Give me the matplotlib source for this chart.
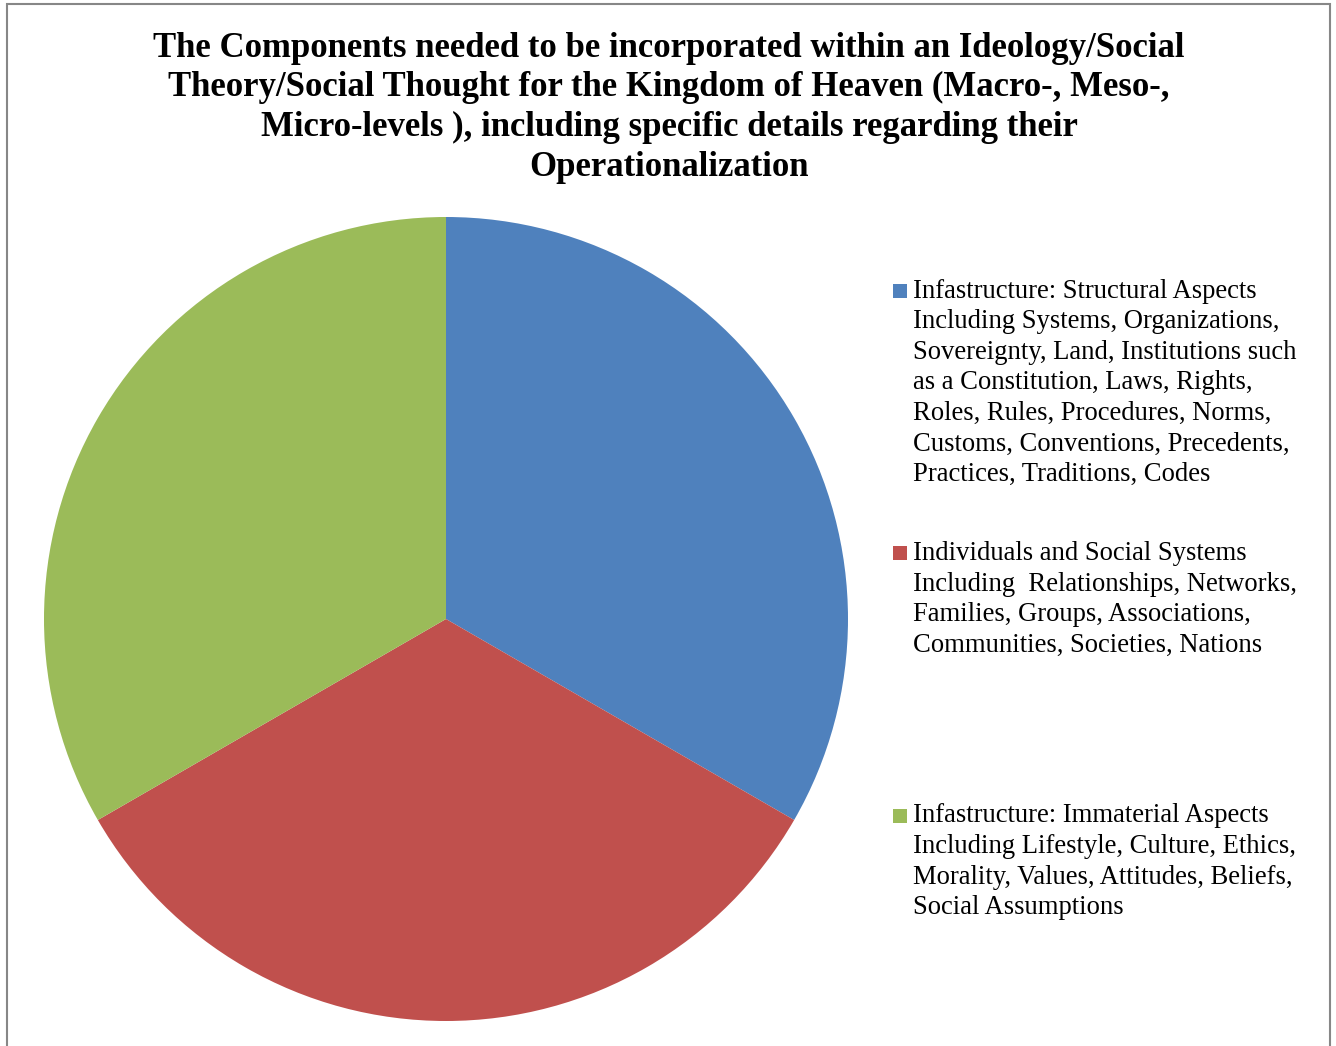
import matplotlib
matplotlib.use('Agg')
import matplotlib.pyplot as plt
from matplotlib.patches import Rectangle

# 데이터
title_lines = ['The Components needed to be incorporated within an Ideology/Social',
               'Theory/Social Thought for the Kingdom of Heaven (Macro-, Meso-,',
               'Micro-levels ), including specific details regarding their',
               'Operationalization']
labels = ['Infastructure: Structural Aspects\nIncluding Systems, Organizations,\n'
          'Sovereignty, Land, Institutions such\nas a Constitution, Laws, Rights,\n'
          'Roles, Rules, Procedures, Norms,\nCustoms, Conventions, Precedents,\n'
          'Practices, Traditions, Codes',
          'Individuals and Social Systems\nIncluding  Relationships, Networks,\n'
          'Families, Groups, Associations,\nCommunities, Societies, Nations',
          'Infastructure: Immaterial Aspects\nIncluding Lifestyle, Culture, Ethics,\n'
          'Morality, Values, Attitudes, Beliefs,\nSocial Assumptions']
values = [1, 1, 1]
colors = ['#4F81BD', '#C0504D', '#9BBB59']

W, H = 1336, 1046
fig = plt.figure(figsize=(W / 100, H / 100), dpi=100)

# 테두리
fig.patches.append(Rectangle((7 / W, -0.05), 1323 / W, (H - 4) / H + 0.05,
                             transform=fig.transFigure, fill=False,
                             edgecolor='#878787', lw=1.5))

# 원형그래프
ax = fig.add_axes([44 / W, 25 / H, 804 / W, 804 / H])
wedges, _ = ax.pie(values, colors=colors, startangle=90, counterclock=False,
                   wedgeprops={'linewidth': 0})
ax.set_xlim(-1, 1)
ax.set_ylim(-1, 1)

# 제목
for i, line in enumerate(title_lines):
    fig.text(669 / W, 1 - (57 + 39.5 * i) / H, line, ha='center', va='baseline',
             fontsize=25, fontweight='bold', family='Liberation Serif')

# 범례 (직접 그림)
for i, (w, lab) in enumerate(zip(wedges, labels)):
    base = 297.5 + 262.5 * i
    fig.patches.append(Rectangle((893 / W, 1 - base / H), 14 / W, 14 / H,
                                 transform=fig.transFigure,
                                 facecolor=w.get_facecolor(), lw=0))
    for j, line in enumerate(lab.split('\n')):
        fig.text(913 / W, 1 - (base + 30.6 * j) / H, line, va='baseline',
                 fontsize=19.2, family='Liberation Serif')

fig.savefig('out.png', dpi=100)
